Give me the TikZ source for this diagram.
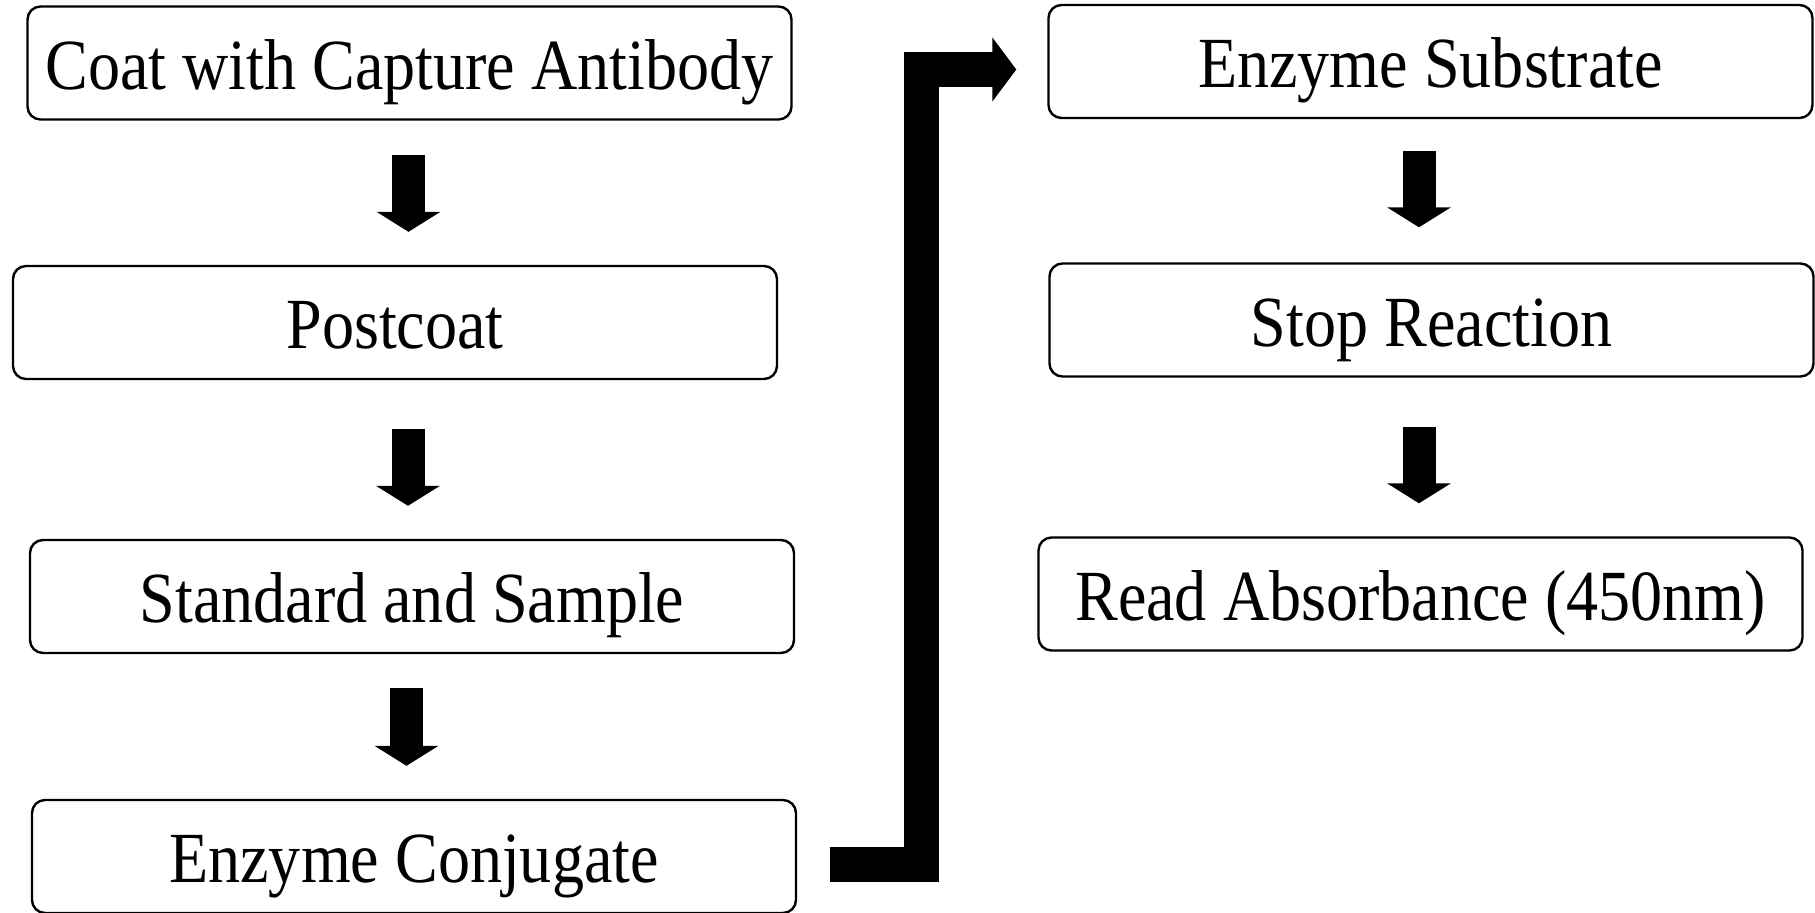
\documentclass[tikz,border=0pt]{standalone}
\usepackage{fontspec}
\setmainfont{Liberation Serif}[FakeStretch=0.89]
\usetikzlibrary{arrows.meta,scopes}
\tikzset{
  stepbox/.style={draw,line width=1.2pt,rounded corners=6.5pt,
                  minimum width=382pt,minimum height=56.5pt,inner sep=0pt,
                  text height=26pt,text depth=0pt,
                  font=\fontsize{36pt}{42pt}\selectfont},
  fatarrow/.style={line width=16.5pt,
                  -{Triangle[width=31.5pt,length=10pt]},
                  shorten <=17pt,shorten >=16.5pt},
  bigarrow/.style={line width=17.5pt,line join=miter,
                  -{Triangle[width=31.5pt,length=12pt]},
                  shorten <=16.5pt,shorten >=15.5pt}
}
\begin{document}
\begin{tikzpicture}[x=0.5pt,y=-0.5pt]
\useasboundingbox (0,0) rectangle (1815,912);

\path node[stepbox]  (m11) at (409.5,63)    {Coat with Capture Antibody}
      node[stepbox]  (m12) at (395,322.5)   {Postcoat}
      node[stepbox]  (m13) at (412,596.5)   {Standard and Sample}
      node[stepbox]  (m14) at (414,856.5)   {Enzyme Conjugate}
      node[stepbox]  (m21) at (1430.5,61.5) {Enzyme Substrate}
      node[stepbox]  (m22) at (1431.5,320)  {Stop Reaction}
      node[stepbox]  (m23) at (1420.5,594)  {Read Absorbance (450nm)};
\coordinate (bend) at (921.5,69.5);
     { [fatarrow]
      \draw  ([xshift=-0.5pt]m11.south) -- ([xshift=-0.5pt]m11.south |- m12.north);
      \draw[shorten <=24.5pt]  ([xshift=6.5pt]m12.south) -- ([xshift=6.5pt]m12.south |- m13.north);
      \draw  ([xshift=-2.75pt]m13.south) -- ([xshift=-2.75pt]m13.south |- m14.north);
      \draw[shorten <=16pt,shorten >=17.5pt]  ([xshift=-5.75pt]m21.south) -- ([xshift=-5.75pt]m21.south |- m22.north);
      \draw[shorten <=24.5pt]  ([xshift=-6.25pt]m22.south) -- ([xshift=-6.25pt]m22.south |- m23.north);
      }
      \draw[bigarrow]  ([yshift=-3.75pt]m14.east) -| (bend) -- ([yshift=-4pt]m21.west);
\end{tikzpicture}
\end{document}
